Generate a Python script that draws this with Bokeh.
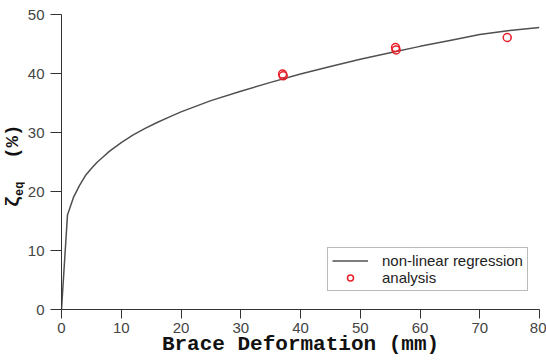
from bokeh.plotting import figure
from bokeh.models import Range1d, Legend, LegendItem, Div
from bokeh.layouts import row
from bokeh.embed import file_html
from bokeh.resources import INLINE

# regression curve
curve_x = [0, 1, 2, 3, 4, 5, 6, 7, 8, 10, 12, 14, 16, 18, 20, 25, 30, 35, 40,
           45, 50, 55, 60, 65, 70, 75, 80]
curve_y = [0, 16.0, 19.0, 21.0, 22.7, 23.9, 25.0, 25.9, 26.8, 28.3, 29.6, 30.7,
           31.7, 32.6, 33.5, 35.4, 37.0, 38.5, 39.9, 41.2, 42.4, 43.5, 44.6,
           45.6, 46.6, 47.3, 47.8]

# analysis points
pts_x = [37.0, 37.1, 55.9, 56.0, 74.6]
pts_y = [39.9, 39.6, 44.4, 44.0, 46.1]

x_ticks = [0, 10, 20, 30, 40, 50, 60, 70, 80]
y_ticks = [0, 10, 20, 30, 40, 50]

x_title = "Brace Deformation (mm)"
legend_labels = ["non-linear regression", "analysis"]

TICK_FONT = "'Liberation Sans Narrow', 'Liberation Sans', sans-serif"

p = figure(width=522, height=361, output_backend="svg", toolbar_location=None,
           x_range=Range1d(0, 80), y_range=Range1d(0, 50),
           min_border_left=36, min_border_right=7, min_border_top=14,
           min_border_bottom=52)
p.outline_line_color = None
p.grid.visible = False

line_r = p.line(curve_x, curve_y, line_color="#505050", line_width=1.5)
pt_r = p.scatter(pts_x, pts_y, marker="circle", size=8, fill_color=None,
                 line_color="#e8202a", line_width=1.5)

ax = p.xaxis[0]
ax.ticker = x_ticks
ax.ticker.num_minor_ticks = 5
ax.major_tick_out = 9
ax.major_tick_in = 0
ax.minor_tick_out = 6
ax.minor_tick_in = 0
ax.axis_line_color = "#333333"
ax.major_tick_line_color = "#333333"
ax.minor_tick_line_color = "#333333"
ax.major_label_text_font = TICK_FONT
ax.major_label_text_font_size = "15px"
ax.major_label_text_color = "#444444"
ax.major_label_standoff = 4
ax.axis_label = x_title
ax.axis_label_text_font = "Liberation Mono"
ax.axis_label_text_font_style = "bold"
ax.axis_label_text_font_size = "21px"
ax.axis_label_text_color = "#111111"
ax.axis_label_standoff = -3

ay = p.yaxis[0]
ay.ticker = y_ticks
ay.ticker.num_minor_ticks = 5
ay.major_tick_out = 11
ay.major_tick_in = 0
ay.minor_tick_out = 6
ay.minor_tick_in = 0
ay.axis_line_color = "#333333"
ay.major_tick_line_color = "#333333"
ay.minor_tick_line_color = "#333333"
ay.major_label_text_font = TICK_FONT
ay.major_label_text_font_size = "15px"
ay.major_label_text_color = "#444444"
ay.major_label_standoff = 6
ay.axis_label = None

legend = Legend(items=[LegendItem(label=legend_labels[0], renderers=[line_r]),
                       LegendItem(label=legend_labels[1], renderers=[pt_r])],
                location=(266, 18))
legend.label_text_font = "Liberation Sans"
legend.label_text_font_size = "15px"
legend.label_text_color = "#222222"
legend.glyph_width = 36
legend.glyph_height = 15
legend.label_height = 15
legend.spacing = 0
legend.padding = 4
legend.margin = 0
legend.label_standoff = 14
legend.border_line_color = "#777777"
legend.border_line_width = 1
legend.background_fill_alpha = 1
p.add_layout(legend)

# rotated y-axis title with subscript, as real HTML text
ylab_html = (
    '<div style="position:relative;width:24px;height:361px;">'
    '<div style="position:absolute;left:15px;top:166px;'
    'transform:translate(-50%,-50%) rotate(-90deg);white-space:nowrap;'
    "font-family:'Liberation Mono',monospace;font-weight:bold;font-size:19px;"
    'color:#111111;line-height:1;">'
    'ζ<sub style="font-size:12px">eq</sub>&nbsp;&nbsp;(%)</div></div>'
)
ylab = Div(text=ylab_html, width=24, height=361, margin=(0, 0, 0, 0))

layout = row(ylab, p, spacing=0)

open("out.html", "w").write(file_html(layout, INLINE))
